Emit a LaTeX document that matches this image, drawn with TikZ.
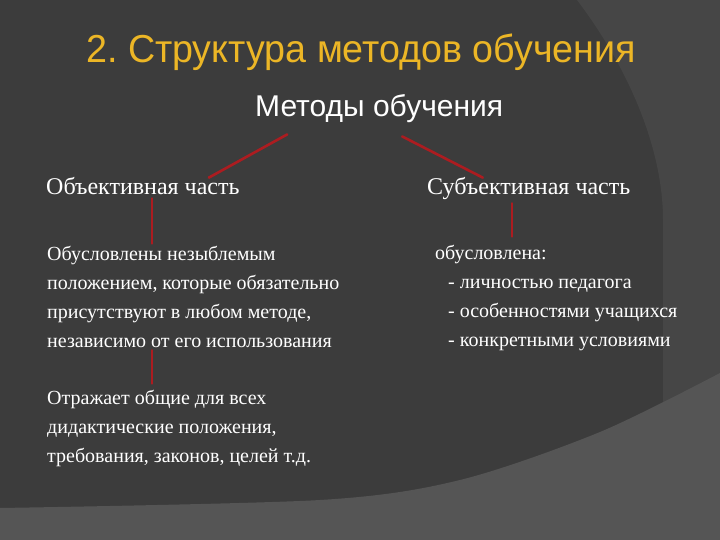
\documentclass[tikz,border=0pt]{standalone}
\usepackage{fontspec}
\setmainfont{Liberation Serif}
\newfontfamily\headfont[FakeStretch=0.965]{Liberation Sans}
\definecolor{slidebg}{RGB}{60,60,60}
\definecolor{slidearc}{RGB}{70,70,70}
\definecolor{slideband}{RGB}{85,85,85}
\definecolor{titlegold}{RGB}{236,182,38}
\definecolor{linkred}{RGB}{172,28,32}
\frenchspacing
\begin{document}
\begin{tikzpicture}[x=1pt, y=-1pt, line join=round, line cap=round,
	part/.style={anchor=base west, inner sep=0pt, text=white, font=\fontsize{24}{28}\selectfont},
	body/.style={anchor=base west, inner sep=0pt, text=white, align=left, font=\fontsize{20}{29}\selectfont},
	link/.style={draw=linkred, line width=2.6pt}]
	\def\W{720} \def\H{540}
	% background of the slide
	\fill[slidebg] (0,0) rectangle (\W,\H);
	\fill[slidearc] (577,0) .. controls (630,70) and (663,150) .. (663,220) -- (663,420) -- (\W,420) -- (\W,0) -- cycle;
	\fill[slideband] plot[smooth] coordinates {(0,508) (320,500) (460,480) (600,432) (720,373)} -- (\W,\H) -- (0,\H) -- cycle;
	\useasboundingbox (0,0) rectangle (\W,\H);
	\node[anchor=base west, inner sep=0pt, text=titlegold, font=\headfont\fontsize{39}{44}\selectfont] (title) at (86,63) {2. Структура методов обучения};
	\node[anchor=base west, inner sep=0pt, text=white, font=\fontsize{30}{34}\selectfont\fontspec{Liberation Sans}] (meth) at (255,117) {Методы обучения};
	\node[part] (obj) at (46,195) {Объективная часть};
	\node[part] (sub) at (427,195) {Субъективная часть};
	% multi-line nodes sit on their last line
	\node[body] (objtxt) at (47,347) {Обусловлены незыблемым\\положением, которые обязательно\\присутствуют в любом методе,\\независимо от его использования};
	\node[body] (objgen) at (47,462) {Отражает общие для всех\\дидактические положения,\\требования, законов, целей т.д.};
	\node[body] (subtxt) at (435,346) {обусловлена:\\\hspace*{13pt}- личностью педагога\\\hspace*{13pt}- особенностями учащихся\\\hspace*{13pt}- конкретными условиями};
	% connectors
	\draw[link] ([xshift=-92pt,yshift=-11pt]meth.south) -- ([xshift=66pt]obj.north);
	\draw[link] ([xshift=23pt,yshift=-13pt]meth.south) -- ([xshift=-46pt]sub.north);
	\draw[link] ([xshift=106pt,yshift=-3pt]obj.south west) -- ([xshift=105pt,yshift=2pt]objtxt.north west);
	\draw[link] ([xshift=105pt,yshift=-3pt]objtxt.south west) -- ([xshift=105pt,yshift=6pt]objgen.north west);
	\draw[link] ([xshift=85pt,yshift=-3pt]sub.south west) -- ([xshift=77pt,yshift=8pt]subtxt.north west);
\end{tikzpicture}
\end{document}
